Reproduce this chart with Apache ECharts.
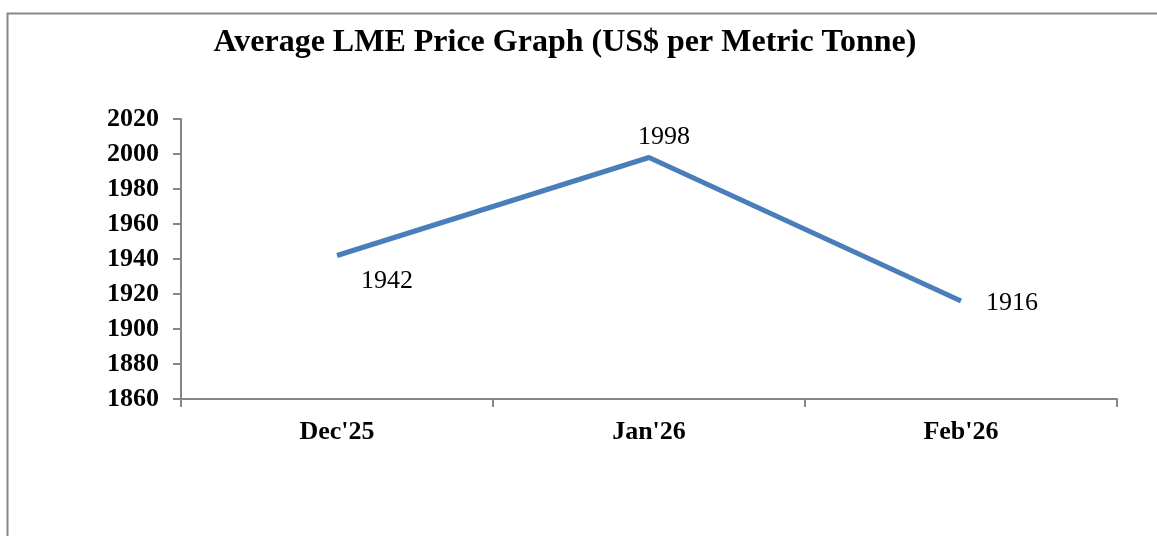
<!DOCTYPE html>
<html>
<head>
<meta charset="utf-8">
<style>
  html, body { margin: 0; padding: 0; background: #fff; }
  #chart { width: 1157px; height: 536px; }
</style>
<script src="https://cdn.jsdelivr.net/npm/echarts@6/dist/echarts.min.js"></script>
</head>
<body>
<div id="chart"></div>
<script>
const months = ["Dec'25", "Jan'26", "Feb'26"];
const prices = [1942, 1998, 1916];
const yTicks = [1860, 2020, 20]; // min, max, step

const font = '"Liberation Serif", "Times New Roman", serif';
const chart = echarts.init(document.getElementById('chart'));

// 每个点的标签偏移不同
const labelOffset = [[50, 26], [15, -20], [51, 2]];

const option = {
  backgroundColor: '#fff',
  animation: false,
  title: {
    text: 'Average LME Price Graph (US$ per Metric Tonne)',
    left: 560,
    textAlign: 'center',
    top: 22,
    textStyle: { fontFamily: font, fontSize: 32, fontWeight: 'bold', color: '#000' },
  },
  graphic: [{
    type: 'rect',
    shape: { x: 7.5, y: 13.5, width: 1300, height: 700 },
    style: { fill: 'none', stroke: '#878787', lineWidth: 2 },
    silent: true,
  }],
  grid: { left: 181, right: 40, top: 119, bottom: 137 },
  xAxis: {
    type: 'category',
    data: months,
    boundaryGap: true,
    axisLine: { lineStyle: { color: '#868686', width: 2 } },
    axisTick: { show: true, length: 8, inside: false, lineStyle: { color: '#868686', width: 2 } },
    axisLabel: { color: '#000', fontFamily: font, fontSize: 26, fontWeight: 'bold', margin: 20 },
  },
  yAxis: {
    type: 'value',
    min: yTicks[0],
    max: yTicks[1],
    interval: yTicks[2],
    axisLine: { show: true, lineStyle: { color: '#868686', width: 2 } },
    axisTick: { show: true, length: 8, lineStyle: { color: '#868686', width: 2 } },
    axisLabel: {
      color: '#000', fontFamily: font, fontSize: 26, fontWeight: 'bold', margin: 22,
      formatter: (v) => String(v),
    },
    splitLine: { show: false },
  },
  series: [{
    type: 'line',
    data: prices.map((v, i) => ({
      value: v,
      label: { offset: labelOffset[i] },
    })),
    showSymbol: true,
    symbol: 'circle',
    symbolSize: 1,
    itemStyle: { color: 'rgba(0,0,0,0)' },
    lineStyle: { color: '#4a7ebb', width: 5 },
    label: {
      show: true, position: 'inside', align: 'center', verticalAlign: 'middle',
      color: '#000', fontFamily: font, fontSize: 26,
      formatter: (p) => String(p.value),
    },
  }],
};

chart.setOption(option);
</script>
</body>
</html>
